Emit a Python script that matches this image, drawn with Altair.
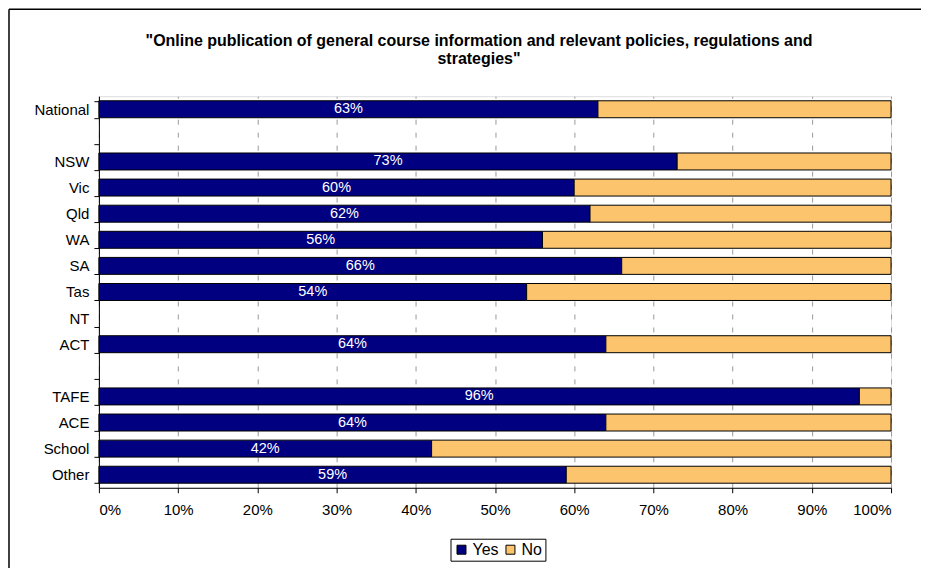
import altair as alt
import pandas as pd

categories = ["National", " ", "NSW", "Vic", "Qld", "WA", "SA", "Tas", "NT", "ACT", "  ",
              "TAFE", "ACE", "School", "Other"]
yes_values = [63, None, 73, 60, 62, 56, 66, 54, None, 64, None, 96, 64, 42, 59]
series = ["Yes", "No"]
x_ticks = [0, 0.1, 0.2, 0.3, 0.4, 0.5, 0.6, 0.7, 0.8, 0.9, 1.0]
title_lines = ['"Online publication of general course information and relevant policies, regulations and',
               'strategies"']

rows = []
for c, v in zip(categories, yes_values):
    if v is None:
        continue
    rows.append({"cat": c, "resp": "Yes", "val": v / 100, "ord": 0})
    rows.append({"cat": c, "resp": "No", "val": (100 - v) / 100, "ord": 1})
df = pd.DataFrame(rows)

lab = pd.DataFrame([{"cat": c, "yes": v / 100, "label": f"{v}%"}
                    for c, v in zip(categories, yes_values) if v is not None])

FONT = "Liberation Sans"
W, H = 793, 392

yscale = alt.Scale(domain=categories, paddingInner=0.35, paddingOuter=0.175)
xscale = alt.Scale(domain=[0, 1], nice=False)

bars = alt.Chart(df).mark_bar(stroke="black", strokeWidth=1).encode(
    y=alt.Y("cat:N", scale=yscale, sort=categories,
            axis=alt.Axis(title=None, tickBand="extent", labelFont=FONT, labelFontSize=15,
                          labelColor="black", domainColor="black", tickColor="black",
                          tickSize=5, labelPadding=5, grid=False)),
    x=alt.X("val:Q", stack="zero", scale=xscale,
            axis=alt.Axis(title=None, format=".0%", values=x_ticks, labelFont=FONT,
                          labelFontSize=15, labelColor="black", domainColor="black",
                          tickColor="black", tickSize=5, labelPadding=10,
                          grid=True, gridColor="#999999", gridDash=[5, 8], gridWidth=1)),
    color=alt.Color("resp:N", scale=alt.Scale(domain=series, range=["#000080", "#FDC46E"]),
                    legend=alt.Legend(title=None, orient="none", direction="horizontal",
                                      legendX=352, legendY=443, symbolType="square",
                                      symbolSize=81, symbolStrokeColor="black",
                                      symbolStrokeWidth=1, labelFont=FONT, labelFontSize=16,
                                      labelColor="black", strokeColor="black", padding=3,
                                      columnPadding=3, labelOffset=3)),
    order=alt.Order("ord:Q"),
)

text = alt.Chart(lab).transform_calculate(mid="datum.yes / 2").mark_text(
    color="white", font=FONT, fontSize=14.5, baseline="middle", align="center"
).encode(
    y=alt.Y("cat:N", scale=yscale, sort=categories),
    x=alt.X("mid:Q", scale=xscale),
    text="label:N",
)

title_df = pd.DataFrame({"t": title_lines, "i": [0, 1]})
title = alt.Chart(title_df).mark_text(
    font=FONT, fontSize=16, fontWeight="bold", color="black", align="center", baseline="middle"
).encode(
    x=alt.value(380.5),
    y=alt.value(-55),
    text="t:N",
).transform_filter("datum.i == 0")

title2 = alt.Chart(title_df).mark_text(
    font=FONT, fontSize=16, fontWeight="bold", color="black", align="center", baseline="middle"
).encode(
    x=alt.value(380.5),
    y=alt.value(-37),
    text="t:N",
).transform_filter("datum.i == 1")

one = pd.DataFrame({"a": [0]})
frame_left = alt.Chart(one).mark_rule(color="black", strokeWidth=1.5).encode(
    x=alt.value(-90), y=alt.value(-87), y2=alt.value(520)
)
frame_top = alt.Chart(one).mark_rule(color="black", strokeWidth=1.5).encode(
    y=alt.value(-87), x=alt.value(-90), x2=alt.value(900)
)

chart = alt.layer(frame_left, frame_top, bars, text, title, title2).properties(
    width=W, height=H,
    autosize=alt.AutoSizeParams(type="none"),
    padding={"left": 91, "top": 88, "right": 30, "bottom": 80},
).configure_view(stroke="#808080", strokeWidth=1).configure(background="white")

chart.save("out.html", embed_options={"renderer": "svg", "actions": False})
